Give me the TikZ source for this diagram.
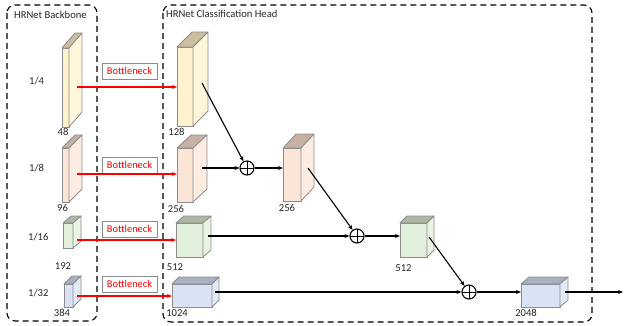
\documentclass[tikz,border=0pt]{standalone}
\usepackage{fontspec}
\setmainfont{Carlito}
\usetikzlibrary{arrows.meta,calc}

% face colours of the feature-map blocks
\definecolor{yelfront}{HTML}{FFF2CC}\definecolor{yelside}{HTML}{FFF6DC}\definecolor{yeltop}{HTML}{CBBF9F}
\definecolor{pchfront}{HTML}{FBE5D6}\definecolor{pchside}{HTML}{FCECE1}\definecolor{pchtop}{HTML}{C7B1A5}
\definecolor{grnfront}{HTML}{E2EFDA}\definecolor{grnside}{HTML}{EAF4E4}\definecolor{grntop}{HTML}{ADB8A4}
\definecolor{blufront}{HTML}{DAE3F3}\definecolor{bluside}{HTML}{E3EAF7}\definecolor{blutop}{HTML}{A8B0C1}
\definecolor{edgegray}{HTML}{8C8C8C}
\definecolor{txtgray}{HTML}{262626}
\definecolor{bnred}{HTML}{FF0000}

\tikzset{
  cubeface/.style={draw=edgegray, line width=0.8pt, inner sep=0pt, outer sep=0pt},
  cubeedge/.style={draw=edgegray, line width=0.8pt, line join=round},
  frame/.style={draw=black, line width=1.1pt, dash pattern=on 6pt off 4pt, rounded corners=8pt},
  lbl/.style={font=\fontsize{10.6}{12}\selectfont, text=txtgray, inner sep=0pt},
  bnbox/.style={draw=edgegray, line width=0.8pt, minimum width=55pt, minimum height=16pt,
    inner sep=0pt, text=bnred, font=\fontsize{10.4}{12}\selectfont},
  redarrow/.style={draw=bnred, line width=1.1pt, -{Stealth[length=5pt,width=4pt]}},
  blkarrow/.style={draw=black, line width=1.1pt, -{Stealth[length=5pt,width=4pt]}},
  sumnode/.style={circle, draw=black, line width=1.1pt, minimum size=14pt, inner sep=0pt,
    path picture={\draw[line width=1pt]
      (path picture bounding box.north) -- (path picture bounding box.south)
      (path picture bounding box.west) -- (path picture bounding box.east);}},
}

% #1 name, #2 centre of front face, #3 width, #4 height, #5 depth shift, #6 palette
\newcommand\cuboid[6]{%
  \node[cubeface, fill=#6front, minimum width=#3pt, minimum height=#4pt] (#1) at #2 {};
  \filldraw[cubeedge, fill=#6top] (#1.north west) -- ++#5 -- ($(#1.north east)+#5$) -- (#1.north east) -- cycle;
  \filldraw[cubeedge, fill=#6side] (#1.north east) -- ++#5 -- ($(#1.south east)+#5$) -- (#1.south east) -- cycle;
}

\begin{document}
\begin{tikzpicture}[x=1pt, y=-1pt]
\useasboundingbox (0,0) rectangle (624,325);

% group frames
\draw[frame] (7,5) rectangle (97,321);
\draw[frame] (163,5) rectangle (592,322);
\node[lbl, anchor=west] (tbb) at (14,15) {HRNet Backbone};
\node[lbl, anchor=west] (thd) at (166,14) {HRNet Classification Head};

% backbone branches
\cuboid{b4}{(65.5,87.5)}{7}{79}{(13,-15)}{yel}
\cuboid{b8}{(65.5,175)}{7}{54}{(13,-13)}{pch}
\cuboid{b16}{(68,235.5)}{10}{25}{(8,-7)}{grn}
\cuboid{b32}{(68.5,295.5)}{9}{23}{(8,-8)}{blu}

\node[lbl, anchor=west] (r4) at (29,81) {1/4};
\node[lbl, anchor=west] (r8) at (29,168) {1/8};
\node[lbl, anchor=west] (r16) at (28,237) {1/16};
\node[lbl, anchor=west] (r32) at (28,293) {1/32};

\node[lbl] (n48) at (63,132) {48};
\node[lbl] (n96) at (62.5,208) {96};
\node[lbl] (n192) at (63,266) {192};
\node[lbl] (n384) at (62,313) {384};

% classification head blocks
\cuboid{h128}{(185,86.5)}{16}{79}{(15,-15)}{yel}
\cuboid{h256}{(185,175)}{16}{54}{(14,-13)}{pch}
\cuboid{m256}{(292,174.5)}{18}{53}{(13,-14)}{pch}
\cuboid{h512}{(189.5,240)}{27}{34}{(8,-7)}{grn}
\cuboid{m512}{(413.5,240)}{27}{34}{(7,-7)}{grn}
\cuboid{h1024}{(192,295.5)}{40}{23}{(7,-7)}{blu}
\cuboid{o2048}{(540.5,295.5)}{39}{23}{(8,-7)}{blu}

\node[lbl] (n128) at (176.5,132) {128};
\node[lbl] (n256a) at (176,209) {256};
\node[lbl] (n256b) at (287,208) {256};
\node[lbl] (n512a) at (175,267) {512};
\node[lbl] (n512b) at (403.5,268) {512};
\node[lbl] (n1024) at (177,313) {1024};
\node[lbl] (n2048) at (526,313) {2048};

% bottleneck labels
\node[bnbox] (bn4) at (129.5,71) {Bottleneck};
\node[bnbox] (bn8) at (129.5,165) {Bottleneck};
\node[bnbox] (bn16) at (129.5,229) {Bottleneck};
\node[bnbox] (bn32) at (129.5,284) {Bottleneck};

% summation nodes
\node[sumnode] (s1) at (247,168) {};
\node[sumnode] (s2) at (357,236) {};
\node[sumnode] (s3) at (469,292) {};

% connector end points inside the blocks
\coordinate (b4o) at (77,87);
\coordinate (b8o) at (77,174);
\coordinate (b16o) at (77,240);
\coordinate (b32o) at (77,296);
\coordinate (h128o) at (202,83);
\coordinate (h256o) at (202,168);
\coordinate (m256o) at (308,168);
\coordinate (h512o) at (208,236);
\coordinate (m512o) at (429,237);
\coordinate (h1024o) at (215,292);
\coordinate (o2048o) at (565,292);
\coordinate (outend) at (623,292);

% bottleneck connections
\draw[redarrow] (b4o) -- (b4o -| h128.west);
\draw[redarrow] (b8o) -- (b8o -| h256.west);
\draw[redarrow] (b16o) -- (b16o -| h512.west);
\draw[redarrow] (b32o) -- (b32o -| h1024.west);

% fusion path
\draw[blkarrow] (h128o) -- (s1);
\draw[blkarrow] (h256o) -- (s1);
\draw[blkarrow] (s1) -- (s1 -| m256.west);
\draw[blkarrow] (m256o) -- (s2);
\draw[blkarrow] (h512o) -- (s2);
\draw[blkarrow] (s2) -- (s2 -| m512.west);
\draw[blkarrow] (m512o) -- (s3);
\draw[blkarrow] (h1024o) -- (s3);
\draw[blkarrow] (s3) -- (s3 -| o2048.west);
\draw[blkarrow] (o2048o) -- (outend);
\end{tikzpicture}
\end{document}
